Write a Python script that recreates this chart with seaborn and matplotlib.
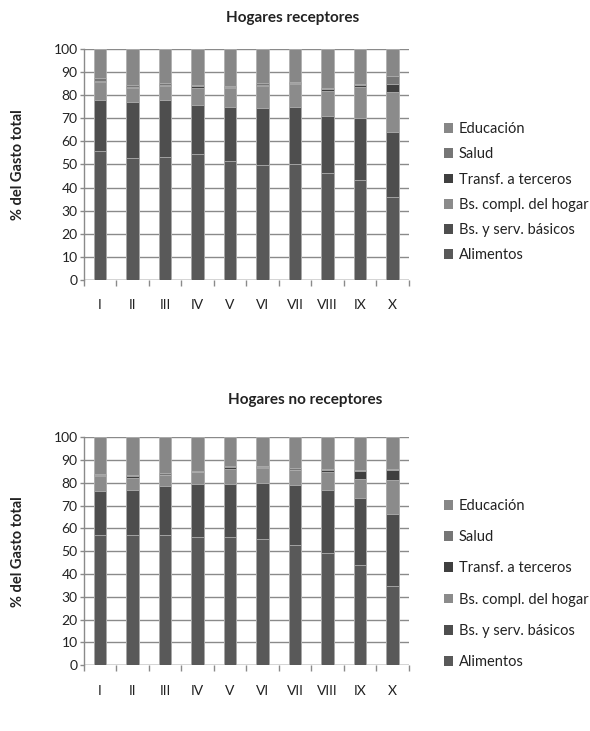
import matplotlib
matplotlib.use("Agg")
import matplotlib.pyplot as plt
from matplotlib.patches import Patch
from matplotlib.ticker import FixedLocator
import numpy as np
import seaborn as sns

sns.set_theme(style="white")
plt.rcParams["font.family"] = ["Lato", "DejaVu Sans"]

deciles = ["I", "II", "III", "IV", "V", "VI", "VII", "VIII", "IX", "X"]
rubros = ["Alimentos", "Bs. y serv. básicos", "Bs. compl. del hogar",
          "Transf. a terceros", "Salud", "Educación"]

# Hogares receptores (% del gasto total por decil)
rec_alimentos = [55.8, 52.8, 53.1, 54.4, 51.3, 49.6, 50.0, 46.2, 43.2, 36.0]
rec_basicos = [22.2, 24.2, 24.6, 21.2, 23.5, 24.8, 24.8, 24.7, 27.1, 28.2]
rec_compl = [7.6, 6.1, 6.2, 7.4, 8.3, 9.6, 10.0, 11.0, 13.4, 17.1]
rec_transf = [0.7, 0.5, 0.6, 1.0, 0.5, 0.6, 0.5, 0.7, 0.6, 3.6]
rec_salud = [1.0, 0.6, 0.8, 0.6, 0.5, 0.6, 0.4, 0.6, 0.4, 3.2]
rec_educ = [12.7, 15.8, 14.7, 15.4, 15.9, 14.8, 14.3, 16.8, 15.3, 11.9]

# Hogares no receptores
nor_alimentos = [56.9, 56.9, 57.3, 56.0, 56.0, 55.4, 52.7, 49.1, 44.1, 34.6]
nor_basicos = [19.5, 20.1, 21.1, 23.4, 23.4, 24.5, 26.1, 27.8, 29.3, 31.5]
nor_compl = [6.6, 5.2, 4.9, 5.2, 6.8, 6.6, 6.7, 7.7, 8.1, 15.1]
nor_transf = [0.3, 0.7, 0.3, 0.2, 0.6, 0.5, 0.3, 0.8, 3.8, 4.3]
nor_salud = [0.5, 0.6, 0.6, 0.3, 0.6, 0.4, 0.7, 0.6, 0.3, 0.5]
nor_educ = [16.2, 16.5, 15.8, 14.9, 12.6, 12.6, 13.5, 14.0, 14.4, 14.0]

colores = ["#595959", "#4e4e4e", "#8b8b8b", "#3f3f3f", "#767676", "#878787"]

grid_col = "#8a8a8a"
edge_col = "#b0b0b0"
text_col = "#222222"


def stacked(ax, capas):
    cum = np.cumsum(np.array(capas), axis=0)
    # draw from the top of the stack downward so each layer covers the next
    for i in range(len(capas) - 1, -1, -1):
        sns.barplot(x=deciles, y=cum[i], color=colores[i], width=0.39,
                    edgecolor=edge_col, linewidth=0.6, saturation=1,
                    ax=ax, zorder=3)
    ax.set_xlim(-0.5, len(deciles) - 0.5)
    ax.set_ylim(0, 100)
    ax.set_yticks(np.arange(0, 101, 10))
    ax.yaxis.grid(True, color=grid_col, linewidth=1.0, zorder=0)
    ax.set_axisbelow(True)
    for s in ["top", "right", "bottom"]:
        ax.spines[s].set_visible(False)
    ax.spines["left"].set_color(grid_col)
    ax.spines["left"].set_linewidth(1.0)
    ax.axhline(0, color=grid_col, linewidth=1.0, zorder=1)
    ax.tick_params(axis="y", length=3, width=1, color=grid_col,
                   labelsize=10, pad=1.5, labelcolor=text_col, left=True)
    ax.tick_params(axis="x", which="major", length=0, labelsize=10,
                   pad=14, labelcolor=text_col)
    ax.xaxis.set_minor_locator(FixedLocator(np.arange(-0.5, len(deciles), 1)))
    ax.tick_params(axis="x", which="minor", length=4, width=1,
                   color=grid_col, bottom=True)
    ax.set_xlabel("")
    ax.set_ylabel("% del Gasto total", fontsize=10.5, fontweight="bold",
                  color=text_col)
    ax.yaxis.set_label_coords(-0.18, 0.5)


fig = plt.figure(figsize=(5.9, 7.31), dpi=100)
ax1 = fig.add_axes([0.142, 0.617, 0.551, 0.316])
ax2 = fig.add_axes([0.142, 0.090, 0.551, 0.312])

stacked(ax1, [rec_alimentos, rec_basicos, rec_compl, rec_transf,
              rec_salud, rec_educ])
stacked(ax2, [nor_alimentos, nor_basicos, nor_compl, nor_transf,
              nor_salud, nor_educ])

fig.text(293 / 590, 1 - 18 / 731, "Hogares receptores", ha="center",
         va="center", fontsize=11, fontweight="bold", color=text_col)
fig.text(305 / 590, 1 - 400 / 731, "Hogares no receptores", ha="center",
         va="center", fontsize=11, fontweight="bold", color=text_col)

handles = [Patch(facecolor=colores[i], edgecolor="none", label=rubros[i])
           for i in range(len(rubros) - 1, -1, -1)]

ax1.legend(handles=handles, loc="center left", bbox_to_anchor=(1.09, 0.38),
           frameon=False, fontsize=10.5, labelspacing=0.77, handlelength=0.65,
           handleheight=0.65, handletextpad=0.35, borderaxespad=0,
           labelcolor=text_col)
ax2.legend(handles=handles, loc="center left", bbox_to_anchor=(1.09, 0.356),
           frameon=False, fontsize=10.5, labelspacing=1.18, handlelength=0.65,
           handleheight=0.65, handletextpad=0.35, borderaxespad=0,
           labelcolor=text_col)

fig.savefig("out.png", dpi=100, facecolor="white")
